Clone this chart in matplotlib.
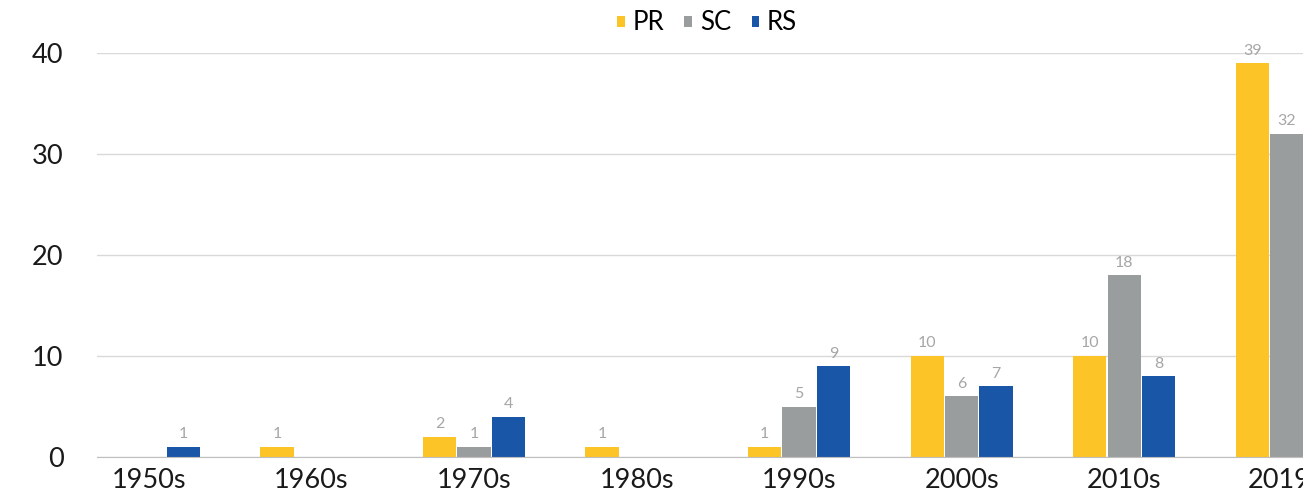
import numpy as np
import matplotlib.pyplot as plt

plt.rcParams['font.family'] = ['Lato', 'DejaVu Sans']

# Decades (last one is cut off at the right edge of the picture)
decades = ['1950s', '1960s', '1970s', '1980s', '1990s', '2000s', '2010s', '2019+']
pr = [0, 1, 2, 1, 1, 10, 10, 39]
sc = [0, 0, 1, 0, 5, 6, 18, 32]
rs = [1, 0, 4, 0, 9, 7, 8, 0]

series = [('PR', pr, '#FDC428'), ('SC', sc, '#9A9D9E'), ('RS', rs, '#1A56A8')]

fig = plt.figure(figsize=(13.03, 4.98), dpi=100)
ax = fig.add_axes([97 / 1303, 41 / 498, 1 - 97 / 1303, (457 - 53) / 498])

x = np.arange(len(decades))
w = 0.205
step = 0.212

for i, (name, vals, col) in enumerate(series):
    pos = x + (i - 1) * step
    ax.bar(pos, vals, width=w, color=col, label=name, zorder=3)
    for xp, v in zip(pos, vals):
        if v > 0:
            ax.text(xp, v + 0.55, str(v), ha='center', va='bottom',
                    fontsize=11.5, color='#A6A6A6', clip_on=False)

ax.set_xlim(-0.32, 7.10)
ax.set_ylim(0, 40)
ax.set_yticks([0, 10, 20, 30, 40])
ax.set_xticks(x)
ax.set_xticklabels(decades, fontsize=19.5, color='#1a1a1a')
ax.tick_params(axis='y', labelsize=19.5, labelcolor='#1a1a1a', length=0, pad=24)
ax.tick_params(axis='x', length=0, pad=8)

ax.grid(axis='y', color='#D9D9D9', linewidth=1, zorder=0)
for s in ['top', 'right', 'left']:
    ax.spines[s].set_visible(False)
ax.spines['bottom'].set_color('#BFBFBF')
ax.spines['bottom'].set_zorder(4)

handles, labels = ax.get_legend_handles_labels()
fig.legend(handles, labels, loc='center', bbox_to_anchor=(707 / 1303, 1 - 23 / 498),
           ncol=3, frameon=False, fontsize=18.5, handlelength=0.3, handleheight=0.3,
           handletextpad=0.3, columnspacing=0.8)

fig.savefig('out.png', dpi=100)
